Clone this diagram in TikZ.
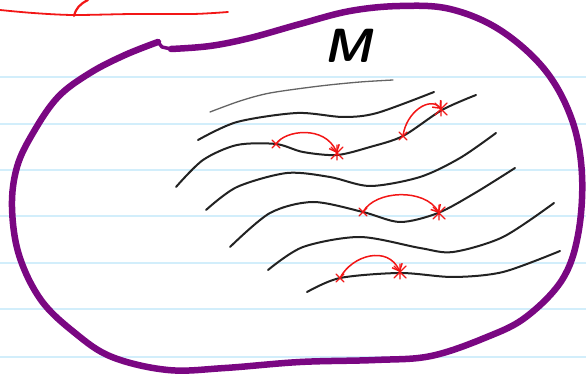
\documentclass[tikz,border=0pt]{standalone}
\usepackage{tikz}
\usetikzlibrary{arrows.meta,calc}
\definecolor{ruled}{HTML}{D2EEFB}
\definecolor{rim}{HTML}{7A0782}
\definecolor{redink}{HTML}{F21616}
\definecolor{leaf}{HTML}{222222}
\newcommand{\crossat}[2]{\draw[redink, line width=1.3pt] ($(#1)+(-#2,-#2)$) -- ($(#1)+(#2,#2)$) ($(#1)+(-#2,#2)$) -- ($(#1)+(#2,-#2)$);}
\newcommand{\starat}[2]{\draw[redink, line width=1.4pt] ($(#1)+(-#2,-#2)$) -- ($(#1)+(#2,#2)$) ($(#1)+(-#2,#2)$) -- ($(#1)+(#2,-#2)$) ($(#1)+(0,-#2-2)$) -- ($(#1)+(0,#2+1)$);}

\begin{document}
\begin{tikzpicture}[x=1pt, y=-1pt, line cap=round, line join=round,
    leafline/.style={leaf, line width=2pt},
    hop/.style={redink, line width=1.5pt, -{Straight Barb[length=6pt, width=11pt]}}]
  \useasboundingbox (0,0) rectangle (586,379);
  \foreach \y in {77,124,170,216,263,309,357} {
    \draw[ruled, line width=1.4pt] (0,\y) -- (586,\y);
  }
  \draw[redink, line width=1.8pt] plot[smooth] coordinates {(0,10) (33,13) (73,15) (133,14) (193,14) (228,12)};
  \draw[redink, line width=2.2pt] (74,16) .. controls (76,8) and (80,4) .. (88,0);
  \draw[rim, line width=6.5pt] plot[smooth, tension=0.6] coordinates {
    (171,49) (210,46) (250,38) (300,24) (350,11) (400,6) (450,9) (500,30)
    (545,70) (572,120) (582,175) (578,235) (562,280) (526,317) (487,337)
    (431,356) (375,360) (300,362) (225,368) (168,370) (112,357) (75,333)
    (41,300) (19,255) (12,207) (17,167) (33,133) (58,97) (90,73) (125,55) (158,42)};
  \draw[rim, line width=3.5pt] (158,42) -- (162,47) -- (171,49);
  \node[font=\fontsize{48}{48}\selectfont\sffamily\bfseries\slshape] (mfd) at (348,46) {M};
  \draw[leaf!70, line width=1.3pt] plot[smooth] coordinates {(210,112) (240,101) (270,93) (320,86) (360,82) (393,80)};
  \draw[leafline] plot[smooth] coordinates {(198,140) (237,122) (297,113) (343,117) (377,113) (434,92)};
  \draw[leafline] plot[smooth] coordinates {(176,187) (203,160) (237,145) (276,144) (303,152) (337,155) (370,147) (403,136) (442,110) (476,95)};
  \draw[leafline] plot[smooth] coordinates {(206,210) (237,187) (287,173) (330,177) (370,186) (420,177) (460,158) (496,133)};
  \draw[leafline] plot[smooth] coordinates {(230,247) (270,213) (313,202) (363,212) (400,222) (438,213) (475,193) (515,168)};
  \draw[leafline] plot[smooth] coordinates {(268,270) (303,247) (360,237) (420,248) (453,252) (503,237) (554,203)};
  \draw[leafline] plot[smooth] coordinates {(307,292) (340,278) (400,273) (453,277) (503,272) (560,251)};
  \coordinate (p1) at (276,144);
  \coordinate (q1) at (337,153);
  \coordinate (p2) at (403,136);
  \coordinate (q2) at (441,109);
  \coordinate (p3) at (363,212);
  \coordinate (q3) at (439,213);
  \coordinate (p4) at (340,278);
  \coordinate (q4) at (400,272);
  \draw[hop] (p1) .. controls (285,130) and (325,125) .. (q1);
  \draw[hop] (p2) .. controls (406,112) and (430,96) .. (q2);
  \draw[hop] (p3) .. controls (375,190) and (425,188) .. (q3);
  \draw[hop] (p4) .. controls (352,255) and (388,245) .. (q4);
  \foreach \c in {p1,p2,p3,p4} {
    \crossat{\c}{4}
  }
  \foreach \c in {q1,q2,q3,q4} {
    \starat{\c}{6}
  }
\end{tikzpicture}
\end{document}
